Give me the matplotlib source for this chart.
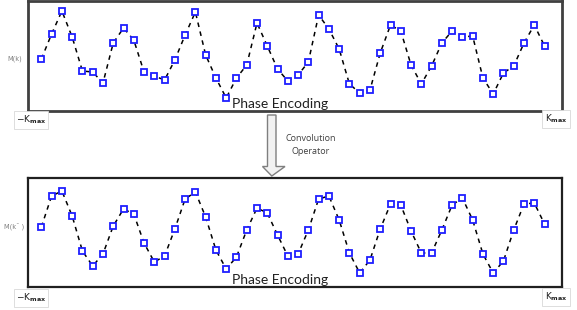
import matplotlib
matplotlib.use("Agg")
import matplotlib.pyplot as plt
from matplotlib.patches import Polygon
import numpy as np

# sample index along phase encoding
k_index = list(range(1, 51))

# M(k) before convolution (height above lower frame, arbitrary units)
m_k = [52, 77, 100, 74, 40, 39, 28, 68, 83, 71,
       39, 35, 31, 51, 76, 99, 56, 33, 13, 33,
       46, 88, 65, 42, 30, 36, 49, 96, 82, 62,
       27, 18, 21, 58, 86, 80, 46, 27, 45, 68,
       80, 74, 75, 33, 17, 38, 45, 68, 86, 65]

# M(k') after convolution
m_k_conv = [60, 91, 96, 71, 36, 21, 33, 61, 78, 73,
            44, 25, 31, 58, 88, 95, 70, 37, 18, 30,
            57, 79, 74, 52, 31, 33, 57, 88, 91, 67,
            34, 14, 27, 58, 83, 82, 56, 34, 34, 57,
            82, 89, 67, 33, 14, 26, 57, 83, 84, 63]

panel_ylabels = ["M(k)", "M(k\u02c9 )"]
xlabel_text = "Phase Encoding"
k_left = r"$-\mathrm{K}_{\mathbf{max}}$"
k_right = r"$\mathrm{K}_{\mathbf{max}}$"
operator_text = "Convolution\nOperator"

W, H = 577, 310
fig = plt.figure(figsize=(W / 100, H / 100), dpi=100)
fig.patch.set_facecolor("white")

def px_rect(x0, y0, x1, y1):
    return [x0 / W, 1 - y1 / H, (x1 - x0) / W, (y1 - y0) / H]

panels = [
    (px_rect(28, 1, 562, 111), m_k, 110, 2.0, "#404040"),
    (px_rect(28, 178, 562, 287), m_k_conv, 109, 1.6, "#202020"),
]

for (rect, vals, ytop, lw, ec) in panels:
    ax = fig.add_axes(rect)
    ax.plot(k_index, vals, linestyle=(0, (3, 3)), color="black", lw=1.1,
            marker="s", markersize=4.2, markerfacecolor="white",
            markeredgecolor="#1f1fff", markeredgewidth=1.3, zorder=3)
    ax.set_xlim(-0.3, 51.7)
    ax.set_ylim(0, ytop)
    ax.set_xticks([])
    ax.set_yticks([])
    for s in ax.spines.values():
        s.set_linewidth(lw)
        s.set_color(ec)
    ax.text(0.472, 0.01, xlabel_text, transform=ax.transAxes, ha="center",
            va="bottom", fontsize=10, family="Lato", color="#202020",
            zorder=5)

# overlay in pixel coordinates for annotations
ov = fig.add_axes([0, 0, 1, 1], facecolor="none")
ov.set_xlim(0, W)
ov.set_ylim(H, 0)
ov.axis("off")

for yy, lab in zip((59, 227), panel_ylabels):
    ov.text(14.5, yy, lab, ha="center", va="center", fontsize=4.8,
            color="#808080", family="DejaVu Sans")

box = dict(boxstyle="square,pad=0.25", fc="white", ec="#d8d8d8", lw=0.6)
for yy in (120, 298):
    ov.text(31, yy, k_left, ha="center", va="center", fontsize=6.5,
            family="DejaVu Serif", color="#202020", bbox=box)
    ov.text(556, yy - 1, k_right, ha="center", va="center", fontsize=6.5,
            family="DejaVu Serif", color="#202020", bbox=box)

arrow = Polygon([(267.5, 115), (276, 115), (276, 166.5), (285, 166.5),
                 (271.8, 176), (262.5, 166.5), (267.5, 166.5)],
                closed=True, fc="#f2f2f2", ec="#7f7f7f", lw=1.0)
ov.add_patch(arrow)
ov.text(311, 145, operator_text, ha="center", va="center", fontsize=6.5,
        family="Open Sans", color="#404040", linespacing=1.5)

fig.savefig("out.png", dpi=100)
